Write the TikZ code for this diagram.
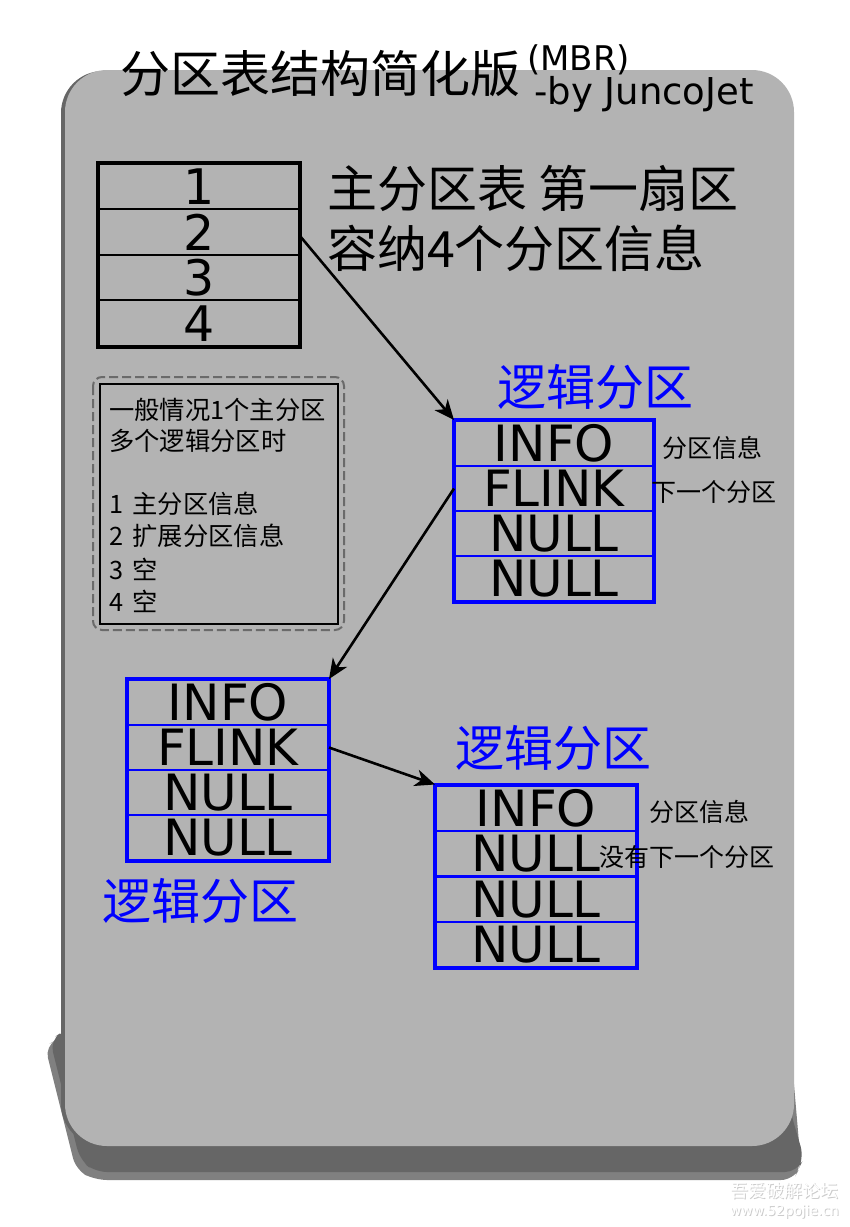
\documentclass[tikz,border=0pt]{standalone}
\usepackage{fontspec}
\setmainfont{DejaVu Sans}
\newfontfamily\cjk{Noto Sans CJK SC}
\usetikzlibrary{arrows.meta}
\definecolor{cardgray}{HTML}{B3B3B3}
\definecolor{shadowdark}{HTML}{666666}
\definecolor{shadowlight}{HTML}{808080}
\definecolor{pureblue}{HTML}{0000FF}
\definecolor{dashgray}{HTML}{6A6A6A}
\begin{document}
\begin{tikzpicture}[x=1pt,y=-1pt,
  cell/.style={draw=pureblue, line width=2pt, minimum width=#1, minimum height=45pt, inner sep=0pt,
    text height=36pt, text depth=0pt, font=\fontsize{50}{50}\selectfont},
  cell/.default=200pt,
  tcell/.style={draw=black, line width=2pt, minimum width=200pt, minimum height=45.5pt, inner sep=0pt,
    text height=36pt, text depth=0pt, font=\fontsize{49}{49}\selectfont},
  outerblue/.style={draw=pureblue, line width=4pt},
  bigcjk/.style={anchor=west, inner sep=0pt, font=\cjk\fontsize{50}{50}\selectfont},
  lglabel/.style={anchor=west, inner sep=0pt, text=pureblue, font=\cjk\fontsize{49}{49}\selectfont},
  sidelabel/.style={anchor=west, inner sep=0pt, font=\cjk\fontsize{25}{25}\selectfont},
  notetext/.style={anchor=west, inner sep=0pt, font=\cjk\fontsize{25.3}{25.3}\selectfont},
  arr/.style={line width=2.6pt, -{Stealth[length=20pt,width=17pt,inset=6pt]}},
  wm/.style={anchor=west, inner sep=0pt, text=white}
]
\useasboundingbox (0,0) rectangle (850,1227);
% shadow layers
\fill[shadowlight, rounded corners=12pt] (45,1046) -- (60,1038) -- (790,1038) -- (801,1166) -- (793,1180) -- (95,1180) -- (76,1170) -- cycle;
\fill[shadowdark, rounded corners=12pt] (50,1040) -- (65,1030) -- (790,1030) -- (790,1110) -- (804,1158) -- (797,1172) -- (95,1172) -- (80,1160) -- cycle;
% card
\fill[shadowdark, rounded corners=42pt] (61,71) rectangle (791,1146);
\fill[cardgray, rounded corners=42pt] (65,70) rectangle (794,1146);

% title
\node[anchor=west, inner sep=0pt, font=\cjk\fontsize{50}{50}\selectfont] (title) at (120,74) {分区表结构简化版};
\node[anchor=west, inner sep=0pt, font=\fontsize{34}{34}\selectfont] (mbr) at (527,60) {(MBR)};
\node[anchor=base west, inner sep=0pt, font=\fontsize{37}{37}\selectfont] (author) at (534,104) {-by JuncoJet};

% main table
\node[tcell] (t1) at (199,186.5) {1};
\node[tcell] (t2) at (199,232) {2};
\node[tcell] (t3) at (199,277.5) {3};
\node[tcell] (t4) at (199,323) {4};
\draw[line width=3.5pt] (t1.north west) rectangle (t4.south east);

\node[bigcjk] (mainA) at (327,188) {主分区表 第一扇区};
\node[bigcjk] (mainB) at (327,248) {容纳4个分区信息};

% note box
\draw[dashgray, line width=2pt, dash pattern=on 9pt off 4pt, rounded corners=9pt] (93,377) rectangle (344,630);
\node[draw=black, line width=2.5pt, minimum width=238pt, minimum height=240pt, inner sep=0pt] (note) at (219,504) {};
\node[notetext] (n1) at (109,410) {一般情况1个主分区};
\node[notetext] (n2) at (109,441) {多个逻辑分区时};
\node[notetext] (n3) at (109,504) {1\hspace{0.15em} 主分区信息};
\node[notetext] (n4) at (109,536) {2\hspace{0.15em} 扩展分区信息};
\node[notetext] (n5) at (109,569) {3\hspace{0.15em} 空};
\node[notetext] (n6) at (109,601) {4\hspace{0.15em} 空};

% logical partition 1
\node[cell=198pt] (a1) at (554,443.5) {INFO};
\node[cell=198pt] (a2) at (554,488.5) {FLINK};
\node[cell=198pt] (a3) at (554,533.5) {NULL};
\node[cell=198pt] (a4) at (554,578.5) {NULL};
\draw[outerblue] (a1.north west) rectangle (a4.south east);
\node[lglabel] (la) at (497,387) {逻辑分区};
\node[sidelabel] (sa1) at (662,448) {分区信息};
\node[sidelabel] (sa2) at (651,492) {下一个分区};

% logical partition 2
\node[cell] (b1) at (228,702.5) {INFO};
\node[cell] (b2) at (228,747.5) {FLINK};
\node[cell] (b3) at (228,792.5) {NULL};
\node[cell] (b4) at (228,837.5) {NULL};
\draw[outerblue] (b1.north west) rectangle (b4.south east);
\node[lglabel] (lb) at (102,901) {逻辑分区};

% logical partition 3
\node[cell] (c1) at (536,808) {INFO};
\node[cell] (c2) at (536,853.5) {NULL};
\node[cell] (c3) at (536,899) {NULL};
\node[cell] (c4) at (536,944.5) {NULL};
\draw[outerblue] (c1.north west) rectangle (c4.south east);
\node[lglabel] (lc) at (455,748) {逻辑分区};
\node[sidelabel] (sc1) at (649,812) {分区信息};
\node[sidelabel] (sc2) at (599,857) {没有下一个分区};

% connectors
\draw[arr] ([yshift=-4pt]t2.east) -- (a1.north west);
\draw[arr] (a2.west) -- (b1.north east);
\draw[arr] (b2.east) -- (c1.north west);

% watermark
\node[wm, font=\cjk\fontsize{18}{18}\selectfont, text=gray!40] (wm1s) at (731,1192) {吾爱破解论坛};
\node[wm, font=\cjk\fontsize{18}{18}\selectfont] (wm1) at (730,1191) {吾爱破解论坛};
\node[wm, font=\fontsize{13.8}{13.8}\selectfont, text=gray!40] (wm2s) at (731,1213) {www.52pojie.cn};
\node[wm, font=\fontsize{13.8}{13.8}\selectfont] (wm2) at (730,1212) {www.52pojie.cn};
\end{tikzpicture}
\end{document}
